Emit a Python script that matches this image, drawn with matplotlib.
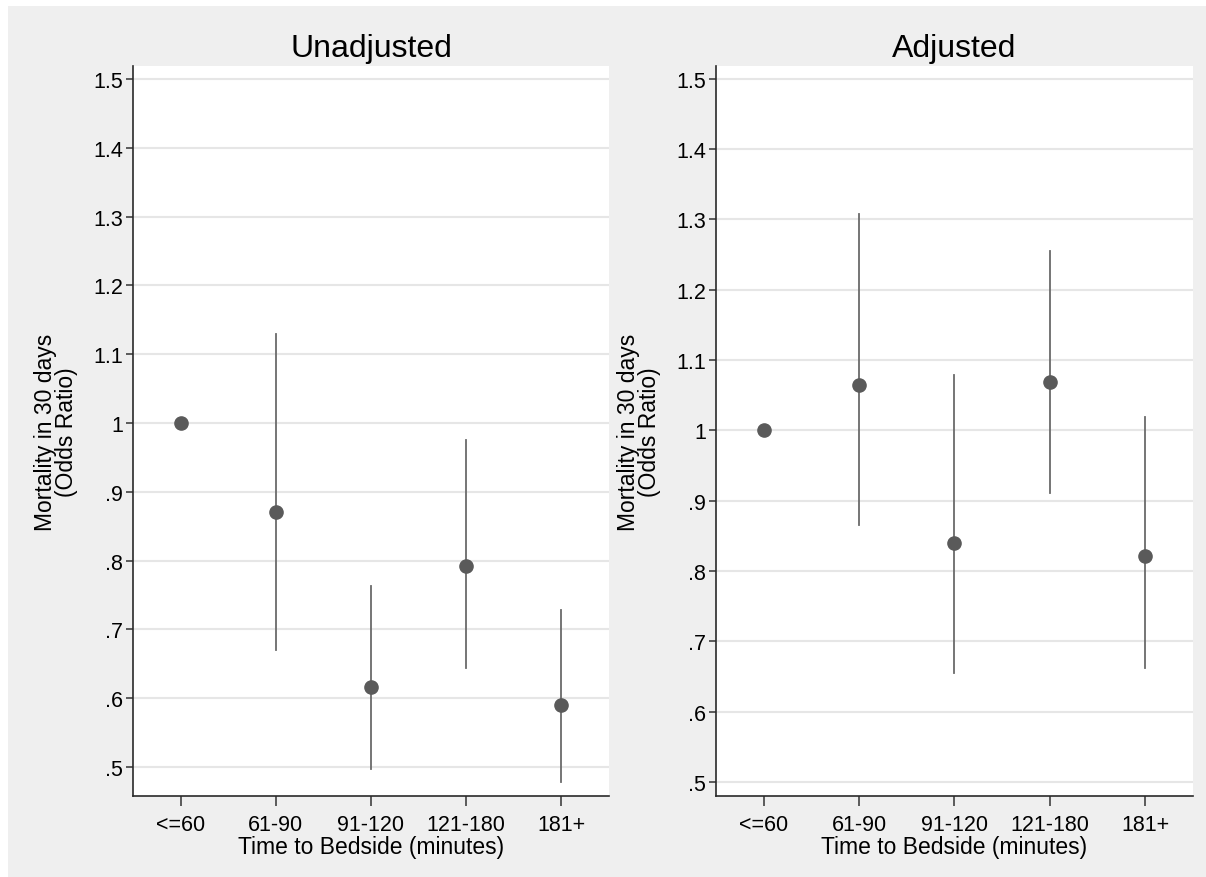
import matplotlib
matplotlib.use("Agg")
import matplotlib.pyplot as plt
from matplotlib.patches import Rectangle
from matplotlib.ticker import FuncFormatter

plt.rcParams['font.family'] = ['Liberation Sans', 'DejaVu Sans']

categories = ['<=60', '61-90', '91-120', '121-180', '181+']

# odds ratios with 95% CI
unadj_or = [1.0, 0.871, 0.616, 0.792, 0.590]
unadj_lo = [None, 0.670, 0.497, 0.644, 0.478]
unadj_hi = [None, 1.129, 0.763, 0.975, 0.728]

adj_or = [1.0, 1.065, 0.840, 1.069, 0.821]
adj_lo = [None, 0.866, 0.655, 0.911, 0.662]
adj_hi = [None, 1.307, 1.078, 1.255, 1.019]

yticks = [0.5, 0.6, 0.7, 0.8, 0.9, 1.0, 1.1, 1.2, 1.3, 1.4, 1.5]

W, H = 1206, 878
fig = plt.figure(figsize=(W / 100, H / 100), dpi=100)
fig.patch.set_facecolor('#efefef')
# thin white strips on the left and top edges
fig.patches.append(Rectangle((0, 0), 8 / W, 1, transform=fig.transFigure,
                             facecolor='white', edgecolor='none', zorder=-10))
fig.patches.append(Rectangle((0, 1 - 7 / H), 1, 7 / H, transform=fig.transFigure,
                             facecolor='white', edgecolor='none', zorder=-10))


def stata_fmt(v, pos):
    s = f'{v:.1f}'
    if s.endswith('.0'):
        s = s[:-2]
    if s.startswith('0.'):
        s = s[1:]
    return s


def panel(rect, title, est, lo, hi, ylim):
    ax = fig.add_axes(rect)
    ax.set_zorder(1)
    ax.set_facecolor('white')
    x = list(range(len(categories)))
    for i in x:
        if lo[i] is not None:
            ax.plot([i, i], [lo[i], hi[i]], color='#6a6a6a', lw=1.3, zorder=2)
    ax.plot(x, est, 'o', color='#5a5a5a', markersize=9.5, zorder=3)
    ax.set_xlim(-0.5, 4.5)
    ax.set_ylim(*ylim)
    ax.set_yticks(yticks)
    ax.yaxis.set_major_formatter(FuncFormatter(stata_fmt))
    ax.set_xticks(x)
    ax.set_xticklabels(categories)
    ax.grid(axis='y', color='#e6e6e6', lw=1.5, zorder=0)
    ax.set_axisbelow(True)
    for s in ['top', 'right']:
        ax.spines[s].set_visible(False)
    for s in ['left', 'bottom']:
        ax.spines[s].set_color('#2a2a2a')
        ax.spines[s].set_linewidth(1.2)
    ax.tick_params(axis='y', length=5, width=1.1, color='#333333', labelsize=15.5, pad=2)
    ax.tick_params(axis='x', length=7, width=1.1, color='#333333', labelsize=15.5, pad=6)
    ax.set_title(title, fontsize=23, pad=7)
    ax.set_xlabel('Time to Bedside (minutes)', fontsize=16.5, labelpad=0)
    ax.set_ylabel('Mortality in 30 days\n(Odds Ratio)', fontsize=16.5, linespacing=0.9)
    ax.yaxis.set_label_coords(-0.115, 0.5)
    return ax


panel([133 / W, 81 / H, 476 / W, 730 / H], 'Unadjusted', unadj_or, unadj_lo, unadj_hi, (0.458, 1.519))
panel([716 / W, 81 / H, 477 / W, 730 / H], 'Adjusted', adj_or, adj_lo, adj_hi, (0.480, 1.518))

fig.savefig('out.png', dpi=100, facecolor=fig.get_facecolor())
